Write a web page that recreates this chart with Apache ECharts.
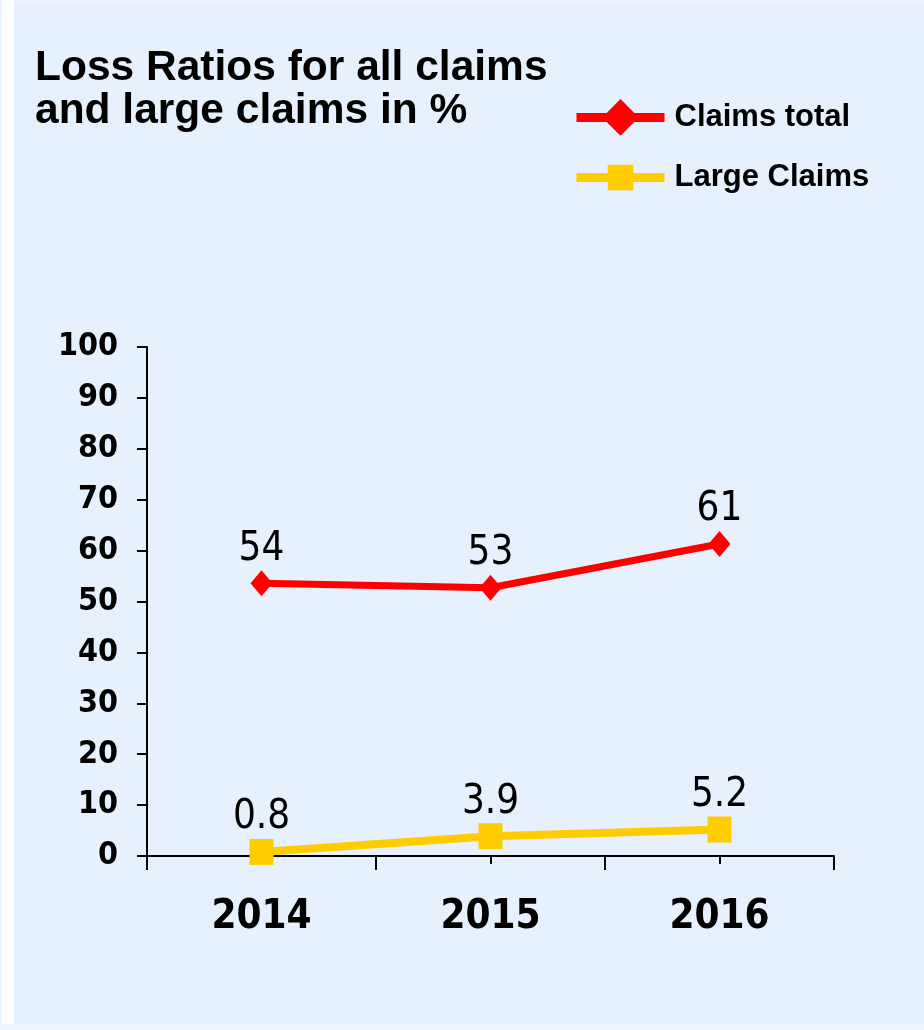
<!DOCTYPE html>
<html>
<head>
<meta charset="utf-8">
<script src="https://cdn.jsdelivr.net/npm/echarts@6/dist/echarts.min.js"></script>
<style>
  html, body { margin: 0; padding: 0; background: #eef5fe; }
  #panel { position: absolute; left: 14px; top: 4px; width: 910px; height: 1020px; background: #e7f1fd; }
  #strip { position: absolute; left: 2px; top: 0; width: 12px; height: 1024px; background: #ffffff; }
  #main { position: absolute; left: 0; top: 0; width: 924px; height: 1030px; }
</style>
</head>
<body>
<div id="strip"></div>
<div id="panel"></div>
<div id="main"></div>
<script>
// data
var years = ['2014', '2015', '2016'];
var claimsTotal = [53.6, 52.7, 61.3];
var largeClaims = [0.8, 3.9, 5.2];
var yTicks = [0, 10, 20, 30, 40, 50, 60, 70, 80, 90, 100];

var narrow = '"Liberation Sans Narrow", "DejaVu Sans Condensed", "Arial Narrow", sans-serif';
var arial = '"Liberation Sans", Arial, sans-serif';

var myChart = echarts.init(document.getElementById('main'));

var option = {
    animation: false,
    title: {
        text: 'Loss Ratios for all claims\nand large claims in %',
        left: 30,
        top: 42,
        textStyle: {
            fontFamily: arial,
            fontWeight: 'bold',
            fontSize: 42.5,
            lineHeight: 43,
            color: '#000'
        }
    },
    legend: [{
        data: ['Claims total'],
        left: 567,
        top: 94,
        itemWidth: 88,
        itemHeight: 46,
        lineStyle: { width: 9 },
        textStyle: { fontFamily: arial, fontWeight: 'bold', fontSize: 31, color: '#000', padding: [0, 0, 0, 5] }
    }, {
        data: ['Large Claims'],
        left: 567,
        top: 157,
        itemWidth: 88,
        itemHeight: 32,
        lineStyle: { width: 9 },
        textStyle: { fontFamily: arial, fontWeight: 'bold', fontSize: 31, color: '#000', padding: [0, 0, 0, 5] }
    }],
    grid: {
        left: 147,
        right: 90,
        top: 347,
        bottom: 174
    },
    xAxis: [{
        type: 'category',
        data: years,
        boundaryGap: true,
        position: 'bottom',
        axisLine: { show: true, lineStyle: { color: '#000', width: 2 } },
        axisTick: { show: true, alignWithLabel: false, length: 14, lineStyle: { color: '#000', width: 2 } },
        axisLabel: {
            margin: 42,
            fontFamily: narrow,
            fontWeight: 'bold',
            fontSize: 40,
            color: '#000'
        }
    }, {
        type: 'category',
        data: years,
        boundaryGap: true,
        position: 'bottom',
        axisLine: { show: false },
        axisTick: { show: true, alignWithLabel: true, length: 8, lineStyle: { color: '#000', width: 2 } },
        axisLabel: { show: false }
    }],
    yAxis: {
        type: 'value',
        min: yTicks[0],
        max: yTicks[yTicks.length - 1],
        interval: 10,
        splitLine: { show: false },
        axisLine: { show: true, lineStyle: { color: '#000', width: 2 } },
        axisTick: { show: true, length: 10, lineStyle: { color: '#000', width: 2 } },
        axisLabel: {
            margin: 29,
            fontFamily: narrow,
            fontWeight: 'bold',
            fontSize: 32,
            color: '#000'
        }
    },
    series: [{
        name: 'Large Claims',
        type: 'line',
        data: largeClaims,
        symbol: 'rect',
        symbolSize: [24, 26],
        itemStyle: { color: '#ffcc00' },
        lineStyle: { color: '#ffcc00', width: 8 },
        label: {
            show: true,
            position: 'top',
            distance: 1,
            fontFamily: narrow,
            fontSize: 40,
            color: '#000',
            formatter: function (p) { return p.value.toFixed(1); }
        }
    }, {
        name: 'Claims total',
        type: 'line',
        data: claimsTotal,
        symbol: 'diamond',
        symbolSize: [22, 26],
        itemStyle: { color: '#ff0000' },
        lineStyle: { color: '#ff0000', width: 7 },
        label: {
            show: true,
            position: 'top',
            distance: 1,
            fontFamily: narrow,
            fontSize: 40,
            color: '#000',
            formatter: function (p) { return Math.round(p.value); }
        }
    }]
};

myChart.setOption(option);
</script>
</body>
</html>
